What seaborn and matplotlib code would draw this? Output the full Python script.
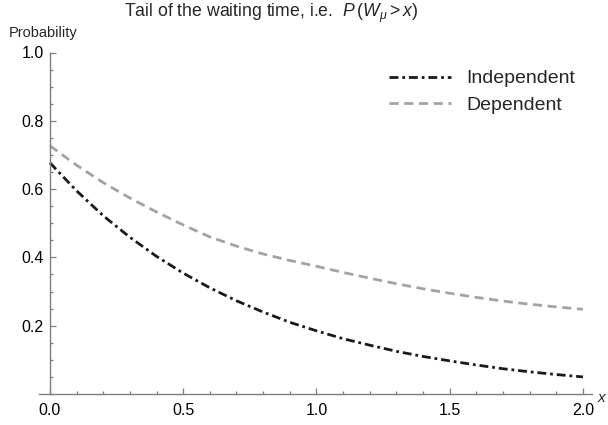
import numpy as np
import pandas as pd
import matplotlib
matplotlib.use("Agg")
import matplotlib.pyplot as plt
import seaborn as sns
from matplotlib.lines import Line2D
from matplotlib.ticker import MultipleLocator, FixedLocator

# values
x_vals = [0.0, 0.1, 0.2, 0.3, 0.4, 0.5, 0.6, 0.7, 0.8, 0.9, 1.0,
          1.1, 1.2, 1.3, 1.4, 1.5, 1.6, 1.7, 1.8, 1.9, 2.0]
independent = [0.677, 0.595, 0.522, 0.459, 0.403, 0.354, 0.311, 0.273, 0.240, 0.210, 0.185,
               0.162, 0.143, 0.125, 0.110, 0.097, 0.085, 0.074, 0.065, 0.057, 0.050]
dependent = [0.727, 0.670, 0.619, 0.574, 0.533, 0.495, 0.460, 0.433, 0.410, 0.391, 0.374,
             0.356, 0.339, 0.323, 0.308, 0.295, 0.283, 0.272, 0.263, 0.255, 0.248]
series_names = ["Independent", "Dependent"]
x_ticks = [0.0, 0.5, 1.0, 1.5, 2.0]
y_ticks = [0.2, 0.4, 0.6, 0.8, 1.0]

sns.set_theme(style="white")
plt.rcParams['font.family'] = ['Liberation Sans', 'DejaVu Sans']
plt.rcParams['mathtext.fontset'] = 'custom'
plt.rcParams['mathtext.rm'] = 'Liberation Sans'
plt.rcParams['mathtext.it'] = 'Liberation Sans:italic'

df = pd.DataFrame({
    "x": x_vals * 2,
    "p": independent + dependent,
    "kind": [series_names[0]] * len(x_vals) + [series_names[1]] * len(x_vals),
})

fig = plt.figure(figsize=(6.08, 4.25), dpi=100)
W, H = 608, 425
ax = fig.add_axes([39 / W, (H - 394) / H, (592 - 39) / W, (394 - 52.5) / H])

black = "#1a1a1a"
gray = "#a3a3a3"
sns.lineplot(data=df[df.kind == "Independent"], x="x", y="p", ax=ax, color=black, lw=2.0)
sns.lineplot(data=df[df.kind == "Dependent"], x="x", y="p", ax=ax, color=gray, lw=2.0)
dash_indep = (0, (3.2, 1.4, 1.0, 1.4))
dash_dep = (0, (3.3, 2.0))
ax.lines[0].set_linestyle(dash_indep)
ax.lines[1].set_linestyle(dash_dep)
for ln in ax.lines:
    ln.set_dash_capstyle("butt")

ax.set_xlim(-0.041, 2.034)
ax.set_ylim(0, 1.0)
ax.set_xlabel("")
ax.set_ylabel("")

spine_col = "#7f7f7f"
for s in ["top", "right"]:
    ax.spines[s].set_visible(False)
ax.spines["left"].set_position(("data", 0))
ax.spines["left"].set_color(spine_col)
ax.spines["bottom"].set_color(spine_col)
ax.spines["left"].set_linewidth(1.0)
ax.spines["bottom"].set_linewidth(1.0)

ax.xaxis.set_major_locator(FixedLocator(x_ticks))
ax.xaxis.set_minor_locator(MultipleLocator(0.1))
ax.yaxis.set_major_locator(FixedLocator(y_ticks))
ax.yaxis.set_minor_locator(MultipleLocator(0.05))
ax.set_xticklabels([f"{t:.1f}" for t in x_ticks])
ax.set_yticklabels([f"{t:.1f}" for t in y_ticks])
ax.tick_params(which="both", direction="in", color=spine_col, width=0.9,
               labelsize=11.5, labelcolor="black", bottom=True, left=True)
ax.tick_params(which="major", length=4.0)
ax.tick_params(which="minor", length=2.2)
ax.tick_params(axis="y", pad=4.5)
ax.tick_params(axis="x", pad=6.5)

handles = [Line2D([], [], color=black, lw=2.0, ls=dash_indep),
           Line2D([], [], color=gray, lw=2.0, ls=dash_dep)]
ax.legend(handles, series_names, loc="upper left", bbox_to_anchor=(379 / W, 1 - 60 / H),
          bbox_transform=fig.transFigure, frameon=False, fontsize=14,
          handlelength=3.2, handletextpad=0.8, labelspacing=0.45, borderpad=0)

fig.text(271 / W, 1 - 13 / H, r"Tail of the waiting time, i.e.  $P\,(W_\mu > x)$",
         ha="center", va="center", fontsize=12.7)
fig.text(9 / W, 1 - 33 / H, "Probability", ha="left", va="center", fontsize=10.5)
fig.text(597 / W, 1 - 398 / H, r"$x$", ha="left", va="center", fontsize=11)

fig.savefig("out.png", dpi=100)
